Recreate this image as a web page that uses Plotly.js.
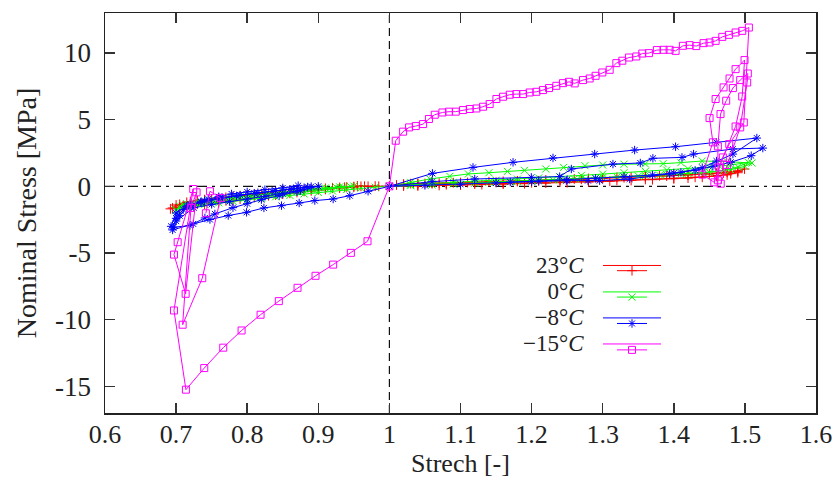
<!DOCTYPE html>
<html>
<head>
<meta charset="utf-8">
<script src="https://cdn.plot.ly/plotly-3.0.1.min.js"></script>
<style>html,body{margin:0;padding:0;background:#fff;}</style>
</head>
<body>
<div id="chart" style="width:839px;height:479px;"></div>
<script>
// ---------- data ----------
const seriesLabels = ['23°<i>C</i>', '0°<i>C</i>', '−8°<i>C</i>', '−15°<i>C</i>'];
const seriesNames = ['23°C', '0°C', '−8°C', '−15°C'];
const seriesColors = ['#ff0000', '#00ff00', '#0000ff', '#ff00ff'];
const seriesSymbols = ['cross-thin-open', 'x-thin-open', 'asterisk-open', 'square-open'];

const xTitle = 'Strech [-]';
const yTitle = 'Nominal Stress [MPa]';
const xTickVals = [0.6, 0.7, 0.8, 0.9, 1.0, 1.1, 1.2, 1.3, 1.4, 1.5, 1.6];
const xTickText = ['0.6', '0.7', '0.8', '0.9', '1', '1.1', '1.2', '1.3', '1.4', '1.5', '1.6'];
const yTickVals = [-15, -10, -5, 0, 5, 10];
const yTickText = ['-15', '-10', '-5', '0', '5', '10'];

// 23°C : compression cycles (time order from stretch 1)
const red23CompX = [1.0, 0.985, 0.97, 0.955, 0.937, 0.92, 0.90, 0.88, 0.86, 0.84, 0.82, 0.80, 0.78, 0.76, 0.74, 0.72, 0.705, 0.692,
  0.70, 0.715, 0.73, 0.75, 0.77, 0.79, 0.81, 0.83, 0.85, 0.87, 0.89, 0.91, 0.93, 0.95, 0.965,
  0.95, 0.93, 0.91, 0.89, 0.87, 0.85, 0.83, 0.81, 0.79, 0.77, 0.75, 0.73, 0.71, 0.695,
  0.705, 0.72, 0.74, 0.76, 0.78, 0.80, 0.82, 0.84, 0.86, 0.88, 0.90, 0.92, 0.94, 0.96, 0.98];
const red23CompY = [0.0, 0.0, 0.0, 0.03, -0.07, -0.14, -0.26, -0.38, -0.52, -0.66, -0.8, -0.95, -1.08, -1.2, -1.33, -1.46, -1.58, -1.69,
  -1.4, -1.2, -1.08, -0.95, -0.83, -0.72, -0.61, -0.51, -0.41, -0.32, -0.23, -0.15, -0.08, -0.02, 0.01,
  -0.05, -0.13, -0.23, -0.34, -0.46, -0.58, -0.7, -0.83, -0.96, -1.08, -1.2, -1.32, -1.46, -1.62,
  -1.35, -1.15, -1.0, -0.88, -0.76, -0.65, -0.55, -0.45, -0.36, -0.27, -0.19, -0.11, -0.05, 0.0, 0.02];
// 23°C : tension cycles
const red23TensX = [1.01, 1.02, 1.03, 1.04, 1.05, 1.06, 1.07, 1.08, 1.09, 1.1, 1.11, 1.12, 1.14, 1.16, 1.18, 1.2, 1.22, 1.24, 1.26, 1.28, 1.3, 1.32, 1.34, 1.36, 1.38, 1.4, 1.42, 1.44, 1.46, 1.475, 1.49, 1.4995,
  1.49, 1.475, 1.46, 1.44, 1.42, 1.40, 1.37, 1.34, 1.31, 1.28, 1.25, 1.22, 1.19, 1.16, 1.13, 1.1, 1.07, 1.04, 1.02, 1.0,
  1.02, 1.04, 1.06, 1.08, 1.1, 1.12, 1.15, 1.18, 1.21, 1.24, 1.27, 1.3, 1.33, 1.36, 1.39, 1.42, 1.45, 1.47, 1.49,
  1.48, 1.46, 1.43, 1.4, 1.36, 1.32, 1.28, 1.24, 1.2, 1.16, 1.12, 1.08, 1.04];
const red23TensY = [0.1, 0.17, 0.2, 0.22, 0.21, 0.23, 0.24, 0.25, 0.27, 0.28, 0.29, 0.31, 0.34, 0.37, 0.41, 0.44, 0.48, 0.51, 0.55, 0.59, 0.63, 0.67, 0.71, 0.75, 0.79, 0.83, 0.88, 0.93, 0.99, 1.06, 1.16, 1.30,
  1.02, 0.86, 0.76, 0.68, 0.62, 0.57, 0.5, 0.44, 0.38, 0.33, 0.28, 0.24, 0.2, 0.17, 0.13, 0.1, 0.07, 0.04, 0.02, 0.0,
  0.12, 0.19, 0.21, 0.23, 0.25, 0.27, 0.31, 0.36, 0.41, 0.47, 0.53, 0.59, 0.65, 0.71, 0.77, 0.84, 0.92, 1.0, 1.12,
  0.95, 0.8, 0.68, 0.6, 0.52, 0.45, 0.38, 0.32, 0.27, 0.22, 0.17, 0.12, 0.07];

// 0°C
const green0CompX = [1.0, 0.98, 0.96, 0.94, 0.92, 0.90, 0.88, 0.86, 0.84, 0.82, 0.80, 0.78, 0.76, 0.74, 0.72, 0.70,
  0.705, 0.715, 0.73, 0.75, 0.77, 0.79, 0.81, 0.83, 0.85, 0.87, 0.89, 0.91, 0.93, 0.95,
  0.935, 0.915, 0.895, 0.875, 0.855, 0.835, 0.815, 0.795, 0.775, 0.755, 0.735, 0.715, 0.70,
  0.71, 0.725, 0.745, 0.765, 0.785, 0.805, 0.825, 0.845, 0.865, 0.885, 0.905, 0.925, 0.945];
const green0CompY = [0.0, -0.06, -0.14, -0.24, -0.35, -0.46, -0.57, -0.68, -0.79, -0.9, -1.01, -1.12, -1.24, -1.38, -1.55, -1.82,
  -1.5, -1.3, -1.15, -1.02, -0.9, -0.78, -0.66, -0.55, -0.44, -0.33, -0.22, -0.12, -0.04, 0.02,
  -0.08, -0.2, -0.32, -0.44, -0.56, -0.68, -0.8, -0.92, -1.05, -1.18, -1.32, -1.5, -1.75,
  -1.38, -1.2, -1.06, -0.94, -0.82, -0.7, -0.58, -0.47, -0.36, -0.25, -0.15, -0.06, 0.0];
const green0TensX = [1.03, 1.057, 1.085, 1.111, 1.14, 1.166, 1.19, 1.22, 1.245, 1.275, 1.30, 1.33, 1.36, 1.385, 1.41, 1.44, 1.475, 1.51,
  1.50, 1.48, 1.45, 1.42, 1.39, 1.36, 1.33, 1.30, 1.27, 1.24, 1.21, 1.18, 1.15, 1.12, 1.09, 1.06, 1.03, 1.0,
  1.03, 1.06, 1.09, 1.12, 1.15, 1.18, 1.21, 1.24, 1.27, 1.30, 1.33, 1.36, 1.39, 1.42, 1.45, 1.48, 1.505,
  1.49, 1.47, 1.44, 1.41, 1.38, 1.35, 1.32, 1.29, 1.26, 1.23, 1.2, 1.17, 1.14];
const green0TensY = [0.3, 0.55, 0.75, 0.93, 1.02, 1.12, 1.2, 1.3, 1.42, 1.55, 1.6, 1.66, 1.68, 1.7, 1.78, 1.9, 1.85, 1.75,
  1.5, 1.25, 1.05, 0.95, 0.88, 0.8, 0.72, 0.65, 0.58, 0.5, 0.43, 0.36, 0.3, 0.23, 0.17, 0.1, 0.05, 0.0,
  0.12, 0.22, 0.3, 0.38, 0.46, 0.54, 0.63, 0.72, 0.82, 0.92, 1.02, 1.12, 1.22, 1.32, 1.45, 1.6, 1.8,
  1.45, 1.2, 1.02, 0.92, 0.84, 0.77, 0.7, 0.63, 0.56, 0.49, 0.42, 0.36, 0.3];

// -8°C
const blue8CompX = [1.0, 0.97, 0.9443, 0.9209, 0.8951, 0.8731, 0.8483, 0.8235, 0.7991, 0.7733, 0.7476, 0.7241, 0.6951,
  0.705, 0.717, 0.735, 0.7452, 0.76, 0.778, 0.80, 0.8249, 0.85, 0.8717,
  0.87, 0.845, 0.82, 0.80, 0.78, 0.7546, 0.7405, 0.7195, 0.696,
  0.70, 0.71, 0.72, 0.74, 0.765, 0.79, 0.815, 0.84, 0.865, 0.885, 0.90,
  0.875, 0.85, 0.825, 0.80, 0.775, 0.75, 0.725, 0.70, 0.693,
  0.70, 0.715, 0.735, 0.76, 0.785, 0.81, 0.835, 0.86, 0.88, 0.89];
const blue8CompY = [0.0, -0.37, -0.70, -0.95, -1.07, -1.25, -1.45, -1.62, -1.95, -2.19, -2.49, -2.82, -3.27,
  -2.2, -1.45, -1.15, -0.95, -0.78, -0.57, -0.42, -0.25, -0.12, 0.05,
  -0.4, -0.7, -1.0, -1.3, -1.6, -2.07, -2.37, -2.94, -3.07,
  -2.4, -1.75, -1.4, -1.1, -0.85, -0.65, -0.48, -0.32, -0.18, -0.05, 0.0,
  -0.3, -0.55, -0.75, -0.95, -1.15, -1.35, -1.6, -2.6, -3.0,
  -2.0, -1.5, -1.2, -0.95, -0.72, -0.52, -0.38, -0.22, -0.1, -0.02];
const blue8TensX = [1.0605, 1.1176, 1.1739, 1.2301, 1.2887, 1.3449, 1.4025, 1.4597, 1.5168,
  1.4831, 1.46, 1.44, 1.41, 1.3941, 1.3379, 1.2957, 1.2793, 1.2489, 1.20, 1.15, 1.10, 1.05, 1.0,
  1.06, 1.12, 1.1996, 1.2395, 1.2559, 1.3144, 1.3529, 1.3706, 1.4115, 1.4278, 1.4831, 1.5252,
  1.5089, 1.48, 1.455, 1.43, 1.40, 1.37, 1.33, 1.29, 1.25, 1.21, 1.17];
const blue8TensY = [0.97, 1.42, 1.80, 2.13, 2.42, 2.72, 2.97, 3.30, 3.62,
  2.42, 1.9, 1.4, 1.05, 0.93, 0.55, 0.43, 0.43, 0.43, 0.35, 0.25, 0.15, 0.07, 0.0,
  0.35, 0.55, 0.67, 0.73, 1.30, 1.67, 1.75, 2.10, 2.17, 2.42, 2.80, 2.87,
  2.30, 1.8, 1.5, 1.2, 1.0, 0.85, 0.72, 0.6, 0.5, 0.4, 0.32];

// -15°C
const mag15CompX = [1.0, 0.9692, 0.9458, 0.9209, 0.8961, 0.8708, 0.8445, 0.8188, 0.7921, 0.7663, 0.7396, 0.7138,
  0.697, 0.7241, 0.7022, 0.697, 0.7134, 0.7288, 0.7209, 0.7092, 0.7368, 0.7626, 0.7476, 0.7419];
const mag15CompY = [0.0, -4.12, -4.99, -5.87, -6.71, -7.61, -8.61, -9.63, -10.81, -12.1, -13.63, -15.25,
  -9.31, -0.20, -4.19, -5.12, -8.06, -0.45, -1.62, -10.38, -6.89, -0.87, -0.37, -2.02];
const mag15TensX = [1.0089, 1.0193, 1.0277, 1.0371, 1.0474, 1.0556, 1.0638, 1.0746, 1.0839, 1.0933, 1.1036, 1.113, 1.1224, 1.1317, 1.141, 1.1505, 1.1598, 1.1692, 1.1786, 1.188, 1.1973, 1.2067, 1.216, 1.2245, 1.2348, 1.2441, 1.2526, 1.2606, 1.2723, 1.2817, 1.29, 1.2995, 1.3098, 1.3192, 1.3276, 1.3369, 1.3473, 1.3557, 1.365, 1.3762, 1.3856, 1.3941, 1.4025, 1.4128, 1.4222, 1.4316, 1.4419, 1.4503, 1.4588, 1.4682, 1.4775, 1.4869, 1.4963, 1.5056,
  1.4985, 1.478, 1.469, 1.457,
  1.44, 1.455, 1.4503, 1.4588, 1.47, 1.4784, 1.4869, 1.4995,
  1.4962, 1.4869, 1.4635, 1.462,
  1.462, 1.4657, 1.4737, 1.4831, 1.4934, 1.5041,
  1.5032, 1.4934, 1.475, 1.466];
const mag15TensY = [3.42, 4.1, 4.42, 4.52, 4.67, 5.05, 5.37, 5.54, 5.6, 5.6, 5.72, 5.8, 5.84, 5.97, 6.17, 6.55, 6.72, 6.87, 6.92, 6.92, 7.04, 7.09, 7.22, 7.37, 7.54, 7.74, 7.84, 7.72, 7.97, 8.09, 8.29, 8.54, 8.74, 9.24, 9.42, 9.66, 9.74, 9.96, 9.99, 10.22, 10.24, 10.24, 10.16, 10.54, 10.59, 10.52, 10.74, 10.79, 10.91, 11.21, 11.36, 11.54, 11.66, 11.91,
  4.79, 3.17, 2.17, 0.3,
  0.88, 3.30, 5.12, 6.55, 7.42, 8.09, 8.79, 9.47,
  6.74, 4.49, 1.42, 0.45,
  3.0, 5.42, 6.42, 7.37, 7.97, 8.46,
  7.79, 4.42, 1.6, 0.2];

// ---------- build traces ----------
const compX = [red23CompX, green0CompX, blue8CompX, mag15CompX];
const compY = [red23CompY, green0CompY, blue8CompY, mag15CompY];
const tensX = [red23TensX, green0TensX, blue8TensX, mag15TensX];
const tensY = [red23TensY, green0TensY, blue8TensY, mag15TensY];

const traces = seriesNames.map((nm, i) => ({
  type: 'scatter',
  mode: 'lines+markers',
  name: '',
  legendgroup: nm,
  hovertemplate: nm + ': (%{x}, %{y})<extra></extra>',
  x: compX[i].slice().reverse().concat(tensX[i]),
  y: compY[i].slice().reverse().concat(tensY[i]),
  line: {color: seriesColors[i], width: 1},
  marker: {symbol: seriesSymbols[i], size: 7, color: seriesColors[i], line: {color: seriesColors[i], width: 1}}
}));

const SERIF = "'Liberation Serif', 'Times New Roman', Times, serif";

// ---------- legend (labels left of the samples, gnuplot style) ----------
const legRowY = [0.3688, 0.3027, 0.2377, 0.1726];
const legendText = seriesLabels.map(t => '<span style="font-size:23px">' + t + '</span>').join('<br>');
const annotations = [{
  xref: 'paper', yref: 'paper', x: 0.6765, y: 0.2707,
  xanchor: 'right', yanchor: 'middle', align: 'right', showarrow: false,
  text: legendText, font: {family: SERIF, size: 20, color: '#222'}
}, {
  // x-axis title, placed like gnuplot's (below the tick labels)
  xref: 'paper', yref: 'paper', x: 0.5, y: -0.1649, xanchor: 'center', yanchor: 'bottom',
  showarrow: false, borderpad: 0, text: xTitle, font: {family: SERIF, size: 26, color: '#222'}
}];
const legendLines = seriesColors.map((c, i) => ({
  type: 'line', xref: 'paper', yref: 'paper', x0: 0.7004, x1: 0.782, y0: legRowY[i], y1: legRowY[i],
  line: {color: c, width: 1}, layer: 'above'
}));

const layout = {
  width: 839, height: 479,
  margin: {l: 105, r: 23, t: 13, b: 66, pad: 0},
  paper_bgcolor: '#ffffff', plot_bgcolor: '#ffffff',
  font: {family: SERIF, size: 27, color: '#222'},
  showlegend: true,
  legend: {x: 0.7131, y: 0.4013, xanchor: 'left', yanchor: 'top', bgcolor: 'rgba(0,0,0,0)',
    borderwidth: 0, font: {family: SERIF, size: 18, color: '#222'}, itemwidth: 30, tracegroupgap: 0},
  xaxis: {
    range: [0.6, 1.6], tickvals: xTickVals, ticktext: xTickText,
    ticks: 'inside', ticklen: 10, tickwidth: 1.5, tickcolor: '#333',
    showline: true, linecolor: '#222', linewidth: 1.5, mirror: 'ticks',
    showgrid: false, zeroline: false, ticklabelstandoff: -3,
    tickfont: {family: SERIF, size: 26, color: '#222'}
  },
  yaxis: {
    range: [-17, 13], tickvals: yTickVals, ticktext: yTickText,
    ticks: 'inside', ticklen: 10, tickwidth: 1.5, tickcolor: '#333',
    showline: true, linecolor: '#222', linewidth: 1.5, mirror: 'ticks',
    showgrid: false, zeroline: false, ticklabelstandoff: 7,
    tickfont: {family: SERIF, size: 27, color: '#222'},
    title: {text: yTitle, font: {family: SERIF, size: 28, color: '#222'}, standoff: 10}
  },
  shapes: [
    {type: 'line', xref: 'paper', yref: 'y', x0: 0, x1: 1, y0: 0, y1: 0, layer: 'below',
     line: {color: '#111', width: 1.2, dash: '10px,5px,3px,5px'}},
    {type: 'line', xref: 'x', yref: 'paper', x0: 1, x1: 1, y0: 0, y1: 1, layer: 'below',
     line: {color: '#111', width: 1.2, dash: '8px,5px'}}
  ].concat(legendLines),
  annotations: annotations
};

Plotly.newPlot('chart', traces, layout, {displayModeBar: false, staticPlot: true});
</script>
</body>
</html>
